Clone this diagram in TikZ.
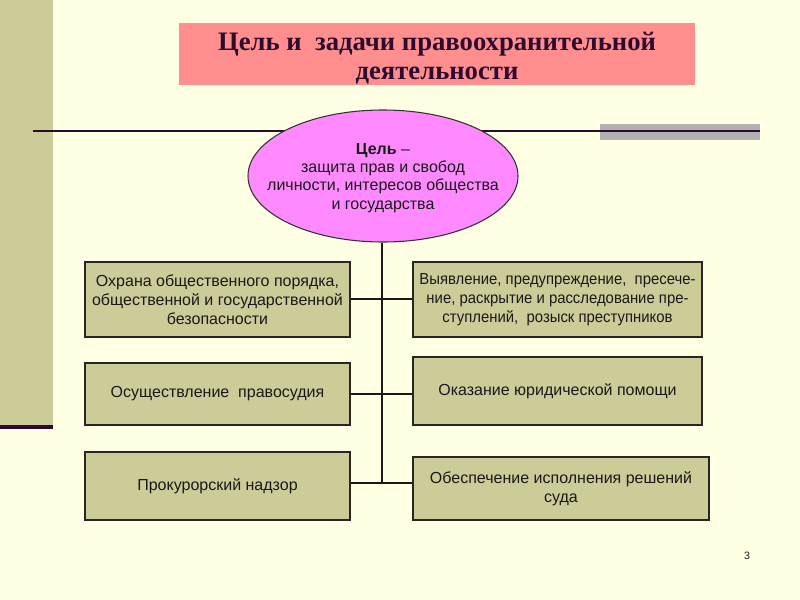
\documentclass[tikz,border=0pt]{standalone}
\usepackage{fontspec}
\setmainfont{Liberation Sans}
\newfontfamily\titlefont{Liberation Serif}
\newfontfamily\narrowfont[FakeStretch=0.93]{Liberation Sans}
\usetikzlibrary{shapes.geometric}
\definecolor{bgcol}{HTML}{FFFFE3}
\definecolor{olive}{HTML}{CCCC99}
\definecolor{darkpurple}{HTML}{2E0A2E}
\definecolor{titlepink}{HTML}{FF8F8F}
\definecolor{ellpink}{HTML}{FF8AFF}
\definecolor{graybar}{HTML}{B2B2B2}
\tikzset{
  box/.style={draw=black!85, line width=0.8pt, fill=olive, align=center, inner sep=0pt,
    font=\fontsize{12}{14.2}\selectfont, text=black!90},
  conn/.style={draw=black!90, line width=0.8pt},
  rule/.style={draw=darkpurple, line cap=butt}
}
\begin{document}
\begin{tikzpicture}[x=0.75pt,y=-0.75pt]
\useasboundingbox (0,0) rectangle (800,600);
\fill[bgcol] (0,0) rectangle (800,600);
% left bar
\fill[olive] (0,0) rectangle (53,425);
\draw[rule, line width=3pt] (0,427) -- (53,427);
% gray bar and top rule
\fill[graybar] (600,124) rectangle (760,140);
\draw[rule, line width=1.6pt] (33,131) -- (760,131);
% title
\fill[titlepink] (179,23) rectangle (695,85);
\node[inner sep=0pt, text=darkpurple, align=center,
  font=\titlefont\bfseries\fontsize{20}{21.8}\selectfont]
  (title) at (437,58) {Цель и\ \ задачи правоохранительной\\деятельности};
% ellipse
\node[ellipse, draw=black!80, line width=0.8pt, fill=ellpink, minimum width=202.5pt,
  minimum height=99pt, inner sep=0pt] (goal) at (383,176) {};
\node[align=center, inner sep=0pt, font=\fontsize{12}{13.6}\selectfont, text=black!90]
  (goaltext) at (383,178) {\textbf{Цель} –\\защита\ прав и свобод\\личности,\ интересов общества\\и государства};
% boxes
\node[box, minimum width=198.75pt, minimum height=56.25pt] (L1) at (217.5,299.5)
  {Охрана общественного порядка,\\общественной и государственной\\безопасности};
\node[box, minimum width=198.75pt, minimum height=46.5pt] (L2) at (217.5,394)
  {Осуществление\ \ правосудия};
\node[box, minimum width=198.75pt, minimum height=51pt] (L3) at (217.5,486)
  {Прокурорский надзор};
\node[box, minimum width=216.75pt, minimum height=56.25pt, font=\narrowfont\fontsize{12}{14.2}\selectfont] (R1) at (557.5,299.5)
  {Выявление, предупреждение,\ \ пресече-\\ние,\ раскрытие и расследование пре-\\ступлений,\ \ розыск преступников};
\node[box, minimum width=216.75pt, minimum height=51pt] (R2) at (557.5,391)
  {Оказание юридической помощи};
\node[box, minimum width=222pt, minimum height=47.25pt] (R3) at (561,488.5)
  {Обеспечение\ исполнения\ решений\\суда};
% trunk
\coordinate (t1) at (382,299);
\coordinate (t2) at (382,394);
\coordinate (t3) at (382,483);
\draw[conn] (goal.south -| t3) -- (t3);
\draw[conn] (L1.east |- t1) -- (R1.west |- t1);
\draw[conn] (L2.east |- t2) -- (R2.west |- t2);
\draw[conn] (L3.east |- t3) -- (R3.west |- t3);
% page number
\node[font=\fontsize{8}{10}\selectfont, text=black!90] (pg) at (747,556) {3};
\end{tikzpicture}
\end{document}
